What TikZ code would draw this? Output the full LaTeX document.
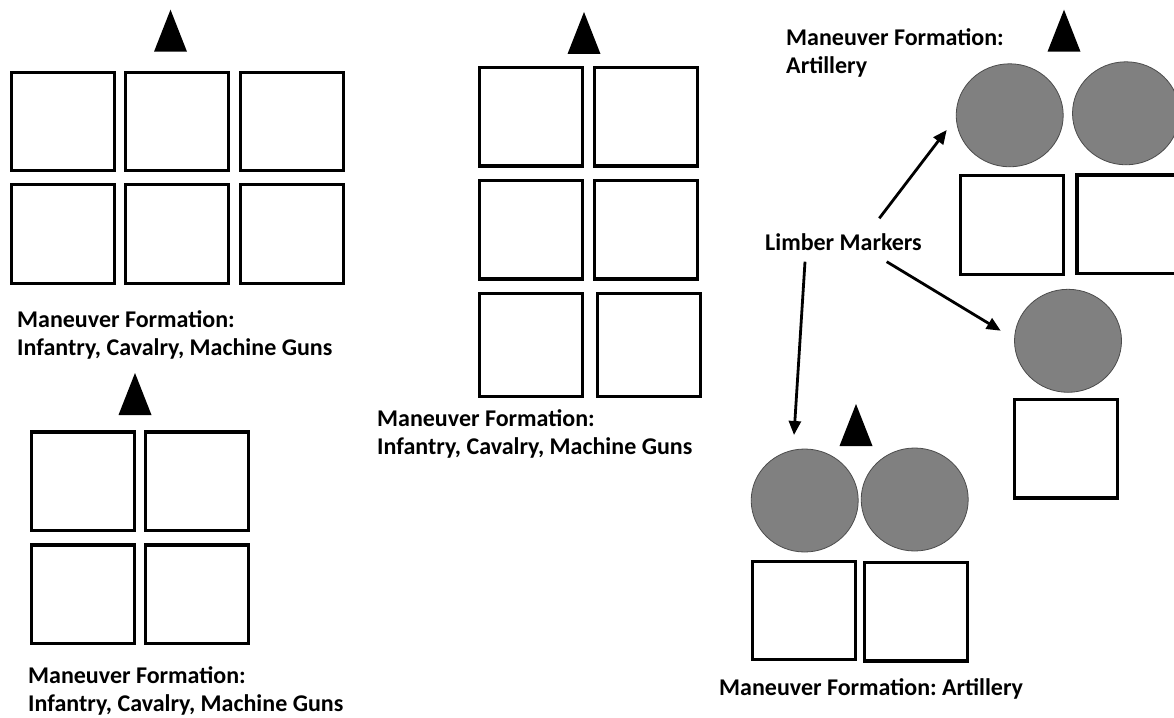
\documentclass[tikz,border=0pt]{standalone}
\usepackage{fontspec}
\newfontfamily\capfont{Carlito}
\usetikzlibrary{shapes.geometric,arrows.meta}
\definecolor{limbergray}{RGB}{128,128,128}
\tikzset{
  unit/.style={draw, line width=3.2pt, minimum width=103pt, minimum height=98.5pt, inner sep=0pt},
  limber/.style={ellipse, draw=black!70, line width=0.8pt, fill=limbergray, minimum width=107pt, minimum height=103pt, inner sep=0pt},
  caption/.style={font=\capfont\bfseries\fontsize{24}{28}\selectfont, align=left, anchor=base west, inner sep=0pt},
  pointer/.style={line width=2.8pt, -{Triangle[length=14pt,width=12pt]}},
  front/.pic={\fill (-16.5,0) -- (0,-42) -- (16.5,0) -- cycle;}
}
\begin{document}
\begin{tikzpicture}[x=1pt,y=-1pt]
\useasboundingbox (0,0) rectangle (1174,717);
\clip (0,0) rectangle (1174,717);
\foreach \c/\x in {1/62.8,2/177.2,3/292}
  \foreach \r/\y in {1/121.5,2/234}
    \node[unit] (tl-\r-\c) at (\x,\y) {};
\pic at (170.5,51.7) {front};
\node[caption] (tl-cap) at (17,355) {Maneuver Formation:\\Infantry, Cavalry, Machine Guns};
\foreach \c/\x in {1/531.2,2/646.3}
  \foreach \r/\y in {1/116.8,2/229.8}
    \node[unit] (md-\r-\c) at (\x,\y) {};
\node[unit, minimum height=103pt] (md-3-1) at (531.2,345) {};
\node[unit, minimum height=103pt] (md-3-2) at (648.7,345) {};
\pic at (584,54) {front};
\node[caption] (md-cap) at (377,454.5) {Maneuver Formation:\\Infantry, Cavalry, Machine Guns};
\foreach \c/\x in {1/82.7,2/197.3}
  \foreach \r/\y in {1/481.3,2/594.2}
    \node[unit] (bl-\r-\c) at (\x,\y) {};
\pic at (135,415) {front};
\node[caption] (bl-cap) at (28,711) {Maneuver Formation:\\Infantry, Cavalry, Machine Guns};
\node[limber] (tr-l1) at (1009.7,115.3) {};
\node[limber] (tr-l2) at (1126,113.3) {};
\node[unit] (tr-u1) at (1011.7,225) {};
\node[unit] (tr-u2) at (1128.5,224.3) {};
\pic at (1064,51.7) {front};
\node[caption] (tr-cap) at (786,73.3) {Maneuver Formation:\\Artillery};
\node[limber] (mr-l1) at (1068,340.8) {};
\node[unit] (mr-u1) at (1066.3,448.7) {};
\node[limber] (br-l1) at (804.7,500.5) {};
\node[limber] (br-l2) at (914.7,499.5) {};
\node[unit] (br-u1) at (803.7,610.5) {};
\node[unit] (br-u2) at (916.3,611.7) {};
\pic at (856,446) {front};
\node[caption] (br-cap) at (719,695) {Maneuver Formation:\hspace{-2pt} Artillery};
\node[caption] (lm) at (765,250) {Limber Markers};
\coordinate (lm-t1) at (879.3,218.3);
\coordinate (lm-h1) at (946.7,130);
\coordinate (lm-t2) at (886.7,261.7);
\coordinate (lm-h2) at (1000.7,330.7);
\coordinate (lm-t3) at (805,261.7);
\coordinate (lm-h3) at (794,435);
\draw[pointer] (lm-t1) -- (lm-h1);
\draw[pointer] (lm-t2) -- (lm-h2);
\draw[pointer] (lm-t3) -- (lm-h3);
\end{tikzpicture}
\end{document}
